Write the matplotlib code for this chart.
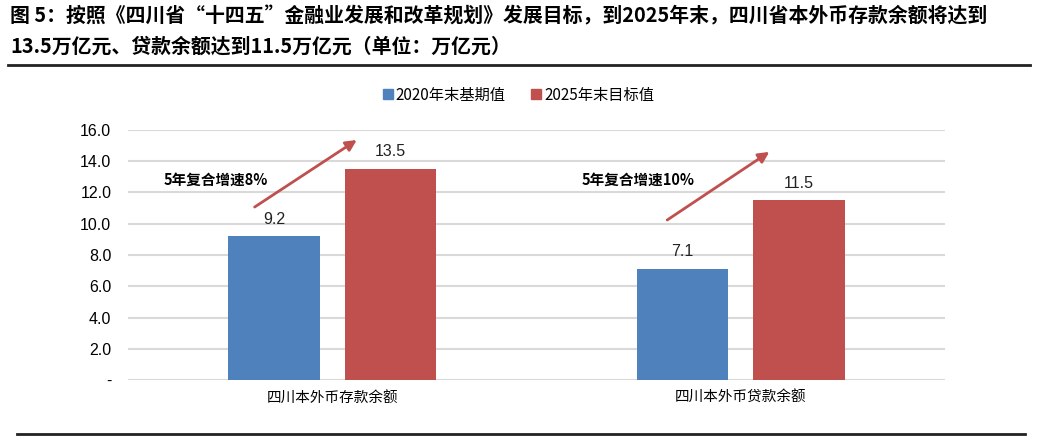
import matplotlib.pyplot as plt
from matplotlib.lines import Line2D
import numpy as np

plt.rcParams['font.family'] = ['Liberation Sans', 'Noto Sans CJK SC', 'DejaVu Sans']

# data
categories = ['四川本外币存款余额', '四川本外币贷款余额']
base_2020 = [9.2, 7.1]
target_2025 = [13.5, 11.5]
series_names = ['2020年末基期值', '2025年末目标值']
growth_notes = ['5年复合增速8%', '5年复合增速10%']
y_ticks = [0, 2, 4, 6, 8, 10, 12, 14, 16]
y_ticklabels = ['-', '2.0', '4.0', '6.0', '8.0', '10.0', '12.0', '14.0', '16.0']

title_lines = ['图 5：按照《四川省“十四五”金融业发展和改革规划》发展目标，到2025年末，四川省本外币存款余额将达到',
               '13.5万亿元、贷款余额达到11.5万亿元（单位：万亿元）']

blue = '#4F81BD'
red = '#C0504D'
cjk = ['Noto Sans CJK SC', 'DejaVu Sans']

fig = plt.figure(figsize=(10.37, 4.38), dpi=100)
ax = fig.add_axes([128 / 1037, 58 / 438, 817 / 1037, 250 / 438])

x = np.arange(len(categories))
w = 0.223
off = 0.1425
b1 = ax.bar(x - off, base_2020, w, color=blue, label=series_names[0], zorder=3)
b2 = ax.bar(x + off, target_2025, w, color=red, label=series_names[1], zorder=3)

# value labels above bars
for bars in (b1, b2):
    for rect in bars:
        h = rect.get_height()
        ax.annotate('%.1f' % h, (rect.get_x() + rect.get_width() / 2, h),
                    xytext=(0, 7), textcoords='offset points',
                    ha='center', va='bottom', fontsize=11.5, color='#222222')

# growth arrows and notes
arrow_pos = [((-0.19, 11.07), (0.06, 15.36)), ((0.82, 10.24), (1.07, 14.6))]
note_pos = [(-0.285, 12.8), (0.748, 12.8)]
for (start, end), (tx, ty), note in zip(arrow_pos, note_pos, growth_notes):
    ax.annotate('', xy=end, xytext=start,
                arrowprops=dict(arrowstyle='-|>', color=red, lw=2,
                                mutation_scale=16, shrinkA=0, shrinkB=0),
                zorder=4)
    ax.text(tx, ty, note, ha='center', va='center', fontsize=10.5,
            fontweight='bold', family=cjk, color='black')

ax.set_xlim(-0.5, 1.5)
ax.set_ylim(0, 16)
ax.set_yticks(y_ticks)
ax.set_yticklabels(y_ticklabels, fontsize=11.5)
ax.set_xticks(x)
ax.set_xticklabels(categories, fontsize=10.5, family=cjk)
ax.tick_params(length=0, pad=12)
ax.tick_params(axis='x', pad=8)
ax.yaxis.grid(True, color='#d9d9d9', linewidth=1.5, zorder=0)
ax.set_axisbelow(True)
for s in ax.spines.values():
    s.set_visible(False)

# legend
handles = [Line2D([], [], marker='s', linestyle='', color=blue, markersize=7),
           Line2D([], [], marker='s', linestyle='', color=red, markersize=7)]
fig.legend(handles, series_names, loc='center', bbox_to_anchor=(518 / 1037, 1 - 95 / 438),
           ncol=2, frameon=False, prop={'family': cjk, 'size': 11},
           handletextpad=0.1, columnspacing=1.6, handlelength=0.8)

# title and rules
fig.text(10 / 1037, 1 - 16 / 438, title_lines[0], fontsize=14.3, fontweight='bold',
         family=cjk, va='center', ha='left')
fig.text(10 / 1037, 1 - 46 / 438, title_lines[1], fontsize=14.3, fontweight='bold',
         family=cjk, va='center', ha='left')
fig.add_artist(Line2D([8 / 1037, 1030 / 1037], [1 - 65 / 438, 1 - 65 / 438],
                      color='#222222', linewidth=2))
fig.add_artist(Line2D([17 / 1037, 1025 / 1037], [1 - 434 / 438, 1 - 434 / 438],
                      color='#222222', linewidth=2))

fig.savefig('out.png', dpi=100)
